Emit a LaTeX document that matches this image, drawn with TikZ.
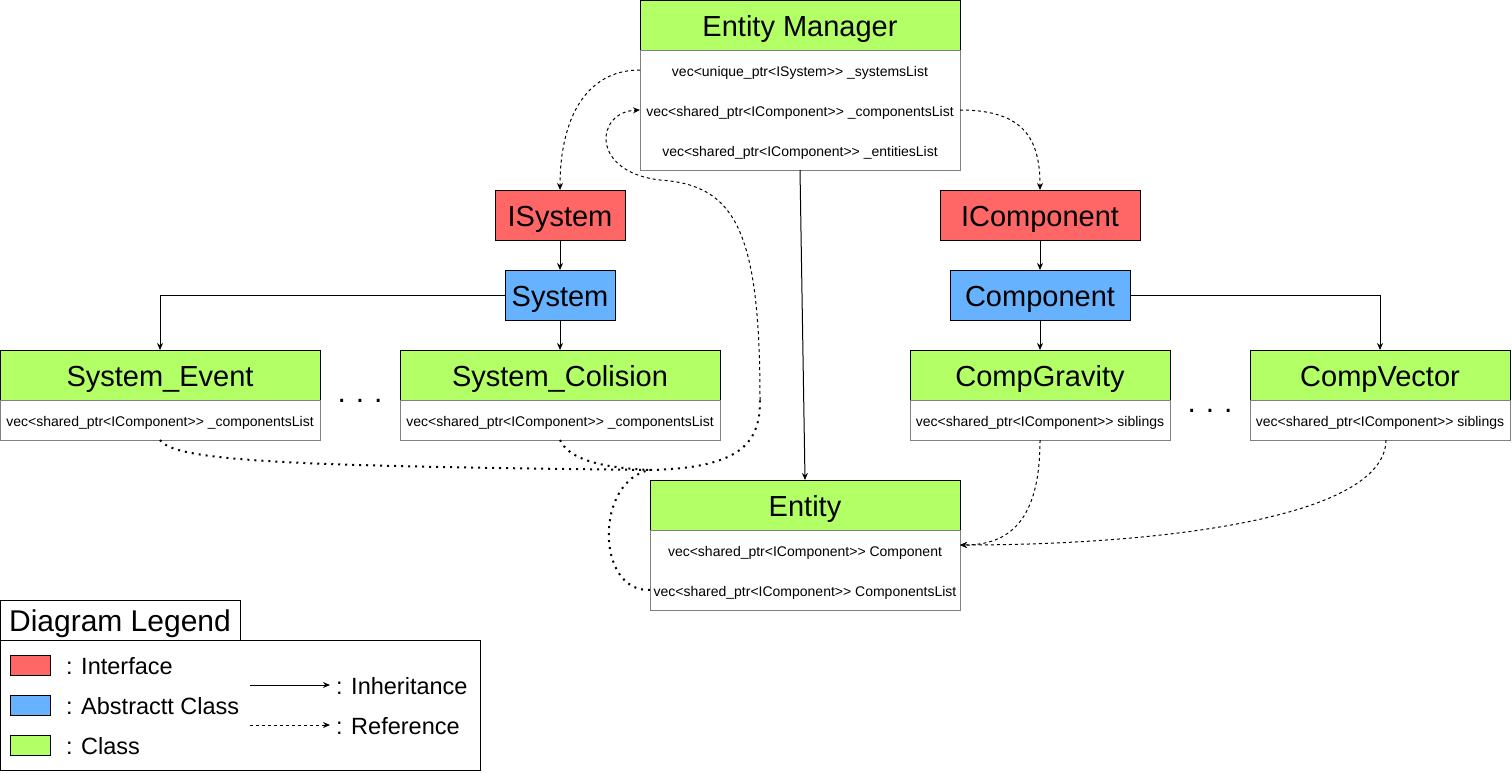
\documentclass[tikz,border=0pt]{standalone}
\usepackage{fontspec}
\setmainfont{Liberation Sans}
\usetikzlibrary{arrows.meta,positioning,calc}

\definecolor{ifacered}{HTML}{FF6666}
\definecolor{abstrblue}{HTML}{66B2FF}
\definecolor{classgreen}{HTML}{B3FF66}
\definecolor{attrgray}{HTML}{808080}

\begin{document}
\begin{tikzpicture}
  [x=1pt, y=-1pt,
   line width=1pt,
   >={Stealth[length=7pt,width=6pt]},
   every node/.style={inner sep=0pt, outer sep=0pt},
   titlebox/.style={rectangle,
                    draw=black,
                    minimum height=50pt,
                    text height=23.4pt, text depth=0pt,
                    font=\fontsize{29}{34}\selectfont},
   ifacebox/.style={titlebox, fill=ifacered},
   abstrbox/.style={titlebox, fill=abstrblue},
   classbox/.style={titlebox, fill=classgreen},
   attrbox/.style={rectangle,
                   draw=attrgray,
                   fill=white,
                   text height=12pt, text depth=0pt,
                   font=\fontsize{14}{16}\selectfont},
   attrtext/.style={text height=12pt, text depth=0pt,
                    font=\fontsize{14}{16}\selectfont},
   legtext/.style={anchor=base west, font=\fontsize{23.5}{28}\selectfont},
   swatch/.style={rectangle, draw=black, minimum width=40pt, minimum height=20pt},
   refline/.style={dash pattern=on 3pt off 3pt},
   refdot/.style={line width=2pt, dash pattern=on 2pt off 5pt},
   dotstext/.style={anchor=base, font=\fontsize{30}{36}\selectfont}]
  \useasboundingbox (0,0) rectangle (1512,772);

  % entity manager
  \node[classbox, minimum width=320pt] (em) at (800,25) {Entity Manager};
  \node[attrbox, minimum width=320pt, minimum height=120pt] (em-attr) [below=0pt of em] {};
  \node[attrtext] (em-sys)  at (800,70)  {vec<unique\_ptr<ISystem>{}> \_systemsList};
  \node[attrtext] (em-comp) at (800,110) {vec<shared\_ptr<IComponent>{}> \_componentsList};
  \node[attrtext] (em-ent)  at (800,150) {vec<shared\_ptr<IComponent>{}> \_entitiesList};

  % systems
  \node[ifacebox, minimum width=130pt] (isys)   at (560,215) {ISystem};
  \node[abstrbox, minimum width=110pt] (sys)    at (560,295) {System};
  \node[classbox, minimum width=320pt] (sysev)  at (160,375) {System\_Event};
  \node[attrbox, minimum width=320pt, minimum height=40pt] (sysev-attr) [below=0pt of sysev]
    {vec<shared\_ptr<IComponent>{}> \_componentsList};
  \node[classbox, minimum width=320pt] (syscol) at (560,375) {System\_Colision};
  \node[attrbox, minimum width=320pt, minimum height=40pt] (syscol-attr) [below=0pt of syscol]
    {vec<shared\_ptr<IComponent>{}> \_componentsList};
  \node[dotstext] (dots-sys) at (360,402) {.\,\,.\,\,.};

  % components
  \node[ifacebox, minimum width=200pt] (icomp)    at (1040,215) {IComponent};
  \node[abstrbox, minimum width=180pt] (comp)     at (1040,295) {Component};
  \node[classbox, minimum width=260pt] (compgrav) at (1040,375) {CompGravity};
  \node[attrbox, minimum width=260pt, minimum height=40pt] (compgrav-attr) [below=0pt of compgrav]
    {vec<shared\_ptr<IComponent>{}> siblings};
  \node[classbox, minimum width=260pt] (compvec)  at (1380,375) {CompVector};
  \node[attrbox, minimum width=260pt, minimum height=40pt] (compvec-attr) [below=0pt of compvec]
    {vec<shared\_ptr<IComponent>{}> siblings};
  \node[dotstext] (dots-comp) at (1210,412) {.\,\,.\,\,.};

  % entity
  \node[classbox, minimum width=310pt] (ent) at (805,505) {Entity};
  \node[attrbox, minimum width=310pt, minimum height=80pt] (ent-attr) [below=0pt of ent] {};
  \node[attrtext] (ent-comp) at (805,550) {vec<shared\_ptr<IComponent>{}> Component};
  \node[attrtext] (ent-list) at (805,590) {vec<shared\_ptr<IComponent>{}> ComponentsList};

  % inheritance
  \draw[->] (isys) -- (sys);
  \draw[->] (sys.west) -| (sysev);
  \draw[->] (sys) -- (syscol);
  \draw[->] (icomp) -- (comp);
  \draw[->] (comp) -- (compgrav);
  \draw[->] (comp.east) -| (compvec);
  \draw[->] (em-attr.south) -- (ent.north);

  % references
  \coordinate (hub)  at (650,470);
  \coordinate (bend) at (760,400);
  \coordinate (ent-in) at ($(ent-attr.east |- ent-comp)+(0,-5)$);
  \draw[->, refline] (em-attr.west |- em-sys) .. controls (585,70) and (560,120) .. (isys.north);
  \draw[->, refline] (em-attr.east |- em-comp) .. controls (1025,110) and (1040,140) .. (icomp.north);
  \draw[refdot] (sysev-attr.south) .. controls (175,462) and (300,466) .. (hub);
  \draw[refdot] (syscol-attr.south) .. controls (570,462) and (610,468) .. (hub);
  \draw[refdot] (ent-attr.west |- ent-list) .. controls (595,592) and (595,480) .. (hub);
  \draw[refdot] (hub) .. controls (745,468) and (760,440) .. (bend);
  \draw[->, refline] (bend) .. controls (760,230) and (735,185) .. (660,180)
                     .. controls (590,172) and (595,112) .. (em-attr.west |- em-comp);
  \draw[->, refline] (compgrav-attr.south) .. controls (1040,520) and (1010,545) .. (ent-in);
  \draw[->, refline] ([xshift=6pt]compvec-attr.south) .. controls (1385,520) and (1150,545) .. (ent-in);

  % legend
  \node[rectangle, draw=black, minimum width=240pt, minimum height=40pt, anchor=north west,
        text height=23pt, text depth=0pt,
        font=\fontsize{30}{36}\selectfont] (leg-title) at (0,600) {Diagram Legend};
  \node[rectangle, draw=black, minimum width=480pt, minimum height=130pt, anchor=north west] (leg-body) at (0,640) {};
  \node[swatch, fill=ifacered]   (sw-iface) at (30,665) {};
  \node[swatch, fill=abstrblue]  (sw-abstr) at (30,705) {};
  \node[swatch, fill=classgreen] (sw-class) at (30,745) {};
  \node[legtext] (lbl-iface) at (66,674) {: Interface};
  \node[legtext] (lbl-abstr) at (66,714) {: Abstractt Class};
  \node[legtext] (lbl-class) at (66,754) {: Class};
  \coordinate (inh-a) at (250,685);
  \coordinate (ref-a) at (250,725);
  \node[legtext] (lbl-inh) at (336,694) {: Inheritance};
  \node[legtext] (lbl-ref) at (336,734) {: Reference};
  \draw[->, shorten >=6pt] (inh-a) -- (inh-a -| lbl-inh.west);
  \draw[->, refline, shorten >=6pt] (ref-a) -- (ref-a -| lbl-ref.west);
\end{tikzpicture}
\end{document}
